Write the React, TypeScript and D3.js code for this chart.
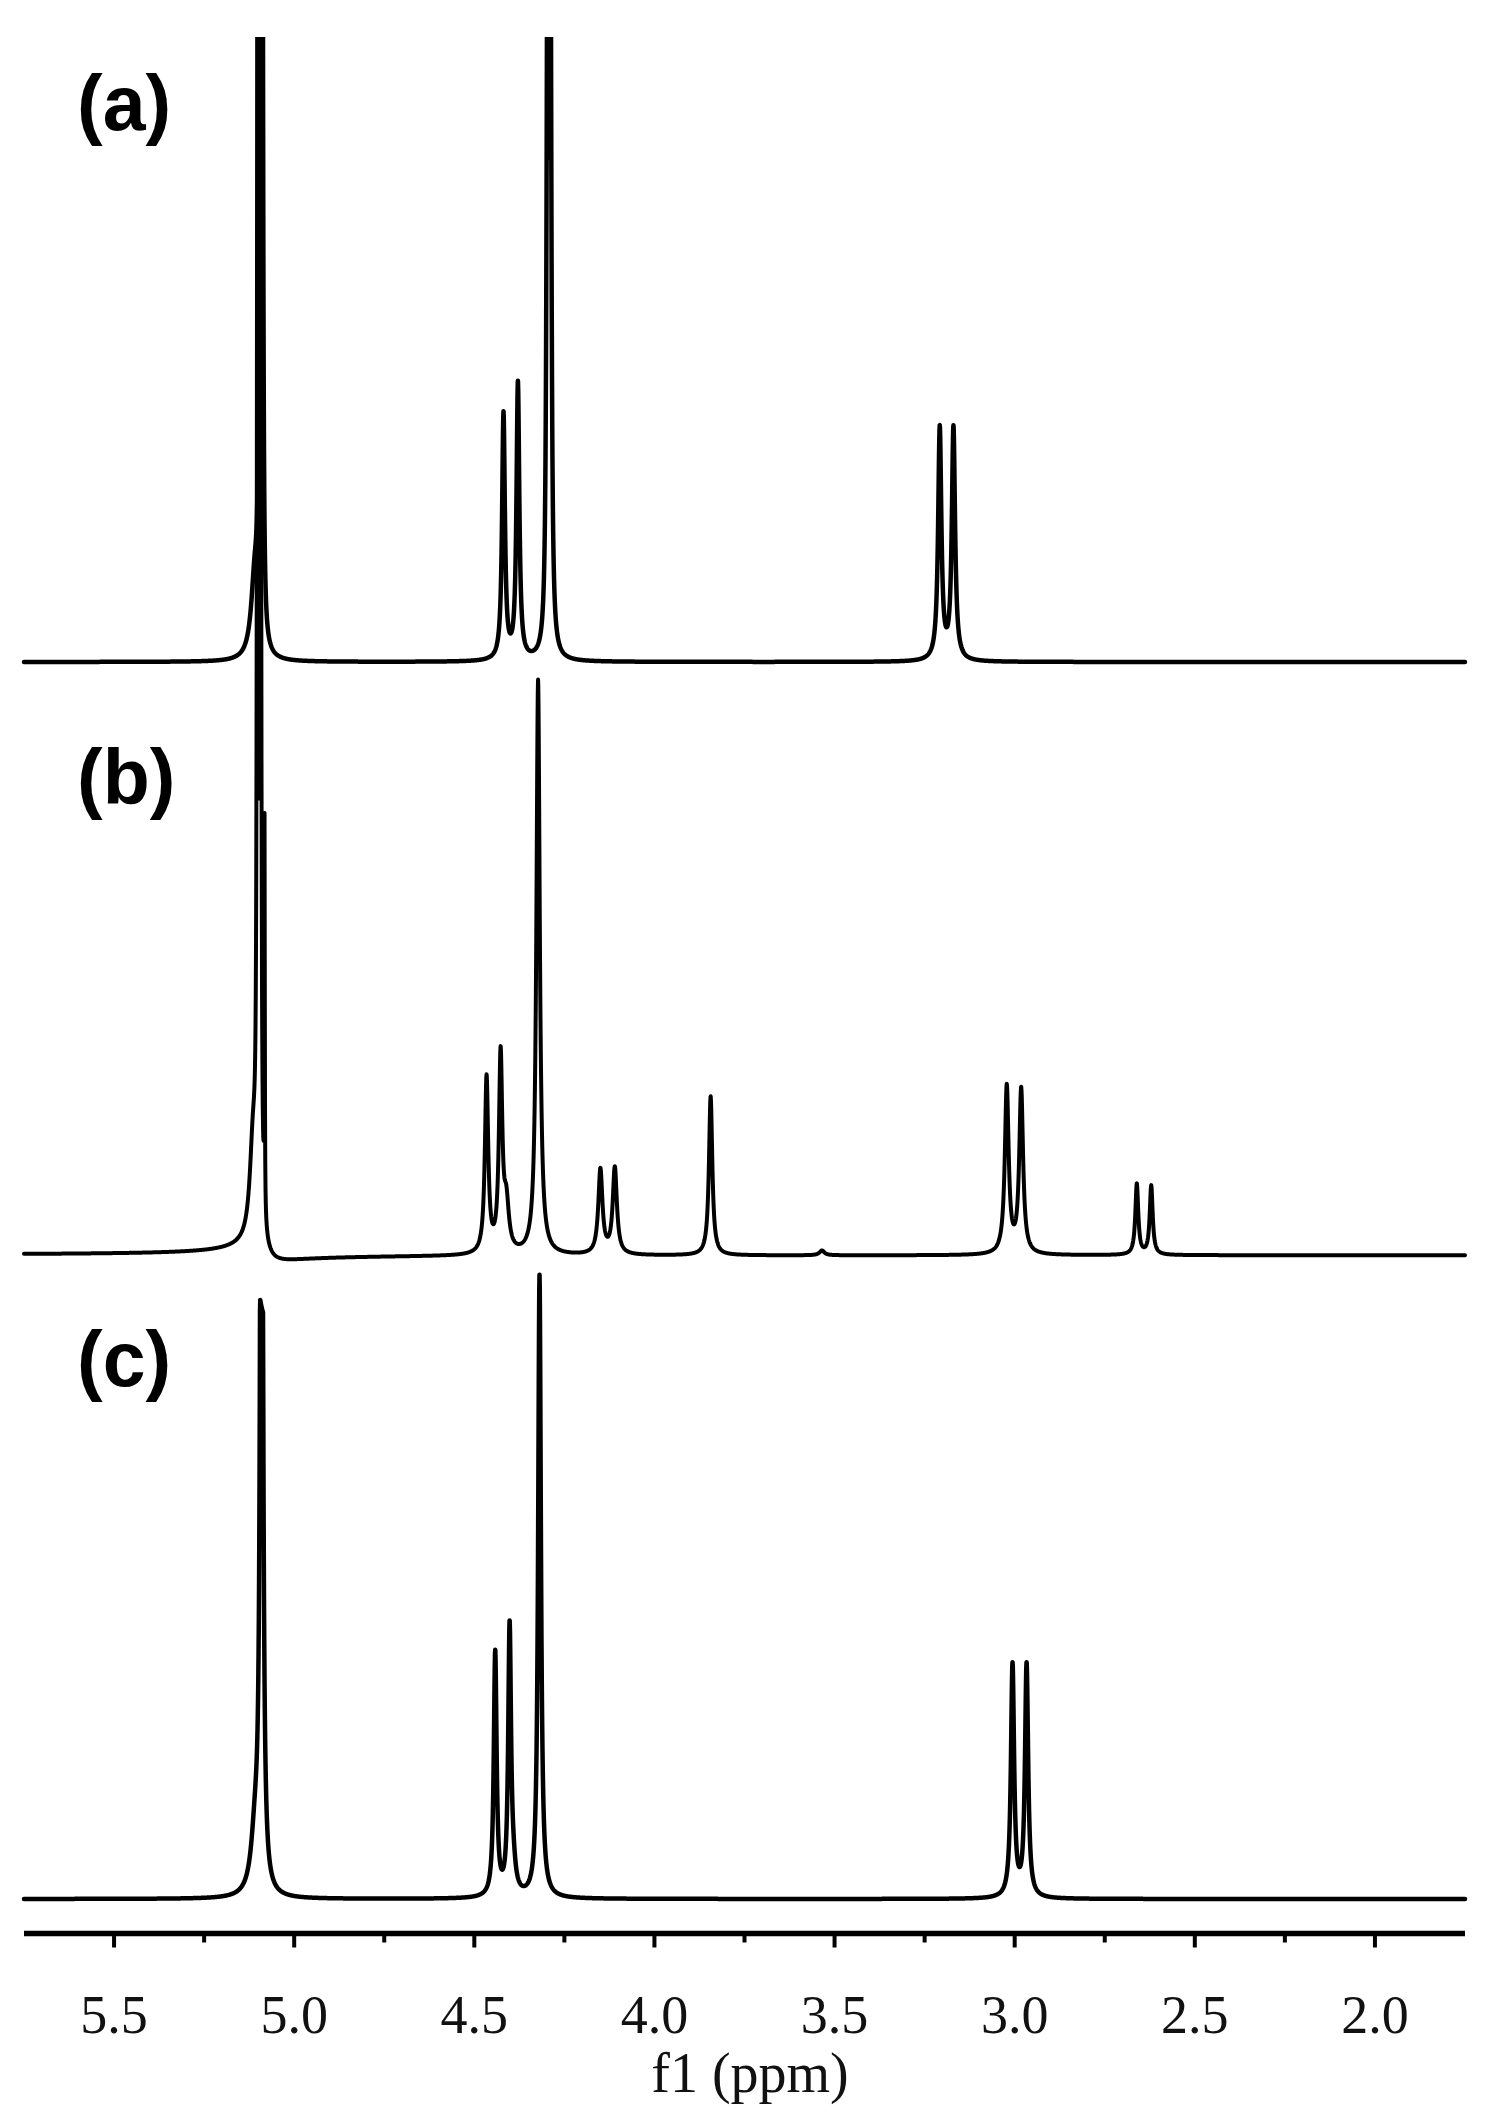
import React from "react";
import * as d3 from "d3";

const WIDTH = 1495;
const HEIGHT = 2117;

// ---- axis data ----
const X_DOMAIN: [number, number] = [5.75, 1.75];
const MAJOR_TICKS = [5.5, 5.0, 4.5, 4.0, 3.5, 3.0, 2.5, 2.0];
const MINOR_TICKS = [5.25, 4.75, 4.25, 3.75, 3.25, 2.75, 2.25];
const TICK_LABELS = ["5.5", "5.0", "4.5", "4.0", "3.5", "3.0", "2.5", "2.0"];
const AXIS_TITLE = "f1 (ppm)";
const PANEL_LABELS = ["(a)", "(b)", "(c)"];

// ---- peak lists (absorption lines): [shift ppm, intensity (0-100 scale), half-width ppm, optional max] ----
type Peak = [number, number, number, number?];

const peaksA: Peak[] = [
  [5.096, 133, 0.0022],
  [5.088, 133, 0.0022],
  [5.109, 13.3, 0.0125],
  [4.419, 41, 0.0047],
  [4.379, 46, 0.0047],
  [4.2969, 117, 0.0031],
  [4.2886, 117, 0.0031],
  [3.208, 38.7, 0.0054],
  [3.17, 38.7, 0.0054],
];

const peaksB: Peak[] = [
  [5.1018, 250, 0.0017],
  [5.0934, 250, 0.0017],
  [5.114, 16.7, 0.0111],
  [5.0823, 65, 0.0008],
  [4.466, 29.3, 0.0056],
  [4.427, 32.5, 0.0056],
  [4.411, 7.5, 0.0083],
  [4.323, 95.8, 0.0056],
  [4.15, 14.1, 0.0069],
  [4.11, 14.4, 0.0069],
  [3.844, 26.5, 0.0056],
  [3.535, 0.8, 0.0083],
  [3.022, 27.9, 0.0064],
  [2.982, 27.4, 0.0064],
  [2.661, 11.8, 0.0049],
  [2.621, 11.5, 0.0049],
];

// phase-distortion (dispersive) component of the water line in (b)
const dispersiveB: Peak[] = [[5.095, 1.4, 0.042]];

const peaksC: Peak[] = [
  [5.0906, 250, 0.0033, 94.8],
  [5.108, 10, 0.0139],
  [4.442, 40.7, 0.0047],
  [4.402, 44.2, 0.0047],
  [4.392, 3.3, 0.0083],
  [4.319, 103.8, 0.0046],
  [3.006, 38.75, 0.0053],
  [2.967, 38.75, 0.0053],
];

const SPECTRA: { abs: Peak[]; disp: Peak[] }[] = [
  { abs: peaksA, disp: [] },
  { abs: peaksB, disp: dispersiveB },
  { abs: peaksC, disp: [] },
];

// ---- layout ----
const X_RANGE: [number, number] = [24, 1465];
const BASELINES = [662, 1255, 1899];
const UNIT_PX = 600; // pixels for 100 intensity units
const STROKES = [4.5, 4, 4.5];
const LABEL_BASELINES = [130, 804, 1386];
const AXIS_Y = 1933.5;

function absorption(ppm: number, p: Peak): number {
  const [p0, h, w, cap] = p;
  const d = (ppm - p0) / w;
  const v = h / (1 + d * d);
  return cap !== undefined ? Math.min(v, cap) : v;
}

function dispersion(ppm: number, p: Peak): number {
  const [p0, h, w] = p;
  const d = (ppm - p0) / w;
  return (h * 2 * d) / (1 + d * d);
}

export default function App() {
  const x = d3.scaleLinear().domain(X_DOMAIN).range(X_RANGE);

  const samplePx = d3.range(X_RANGE[0], X_RANGE[1] + 0.001, 0.25);

  const paths = SPECTRA.map((spec, i) => {
    const y = d3
      .scaleLinear()
      .domain([0, 100])
      .range([BASELINES[i], BASELINES[i] - UNIT_PX]);
    const ppms = samplePx
      .map((px) => x.invert(px))
      .concat(spec.abs.map((p) => p[0]))
      .sort((a, b) => b - a);
    const pts: [number, number][] = ppms.map((ppm) => [
      ppm,
      spec.abs.reduce((s, p) => s + absorption(ppm, p), 0) +
        spec.disp.reduce((s, p) => s + dispersion(ppm, p), 0),
    ]);
    const line = d3
      .line<[number, number]>()
      .x((d) => x(d[0]))
      .y((d) => y(d[1]));
    return line(pts) || "";
  });

  return (
    <div style={{ position: "absolute", left: 0, top: 0 }}>
      <svg width={WIDTH} height={HEIGHT} style={{ display: "block", background: "#fff" }}>
        <defs>
          <clipPath id="plotClip">
            <rect x={0} y={37} width={WIDTH} height={HEIGHT - 37} />
          </clipPath>
        </defs>
        <rect x={0} y={0} width={WIDTH} height={HEIGHT} fill="#fff" />
        <g clipPath="url(#plotClip)">
          {paths.map((d, i) => (
            <path
              key={i}
              d={d}
              fill="none"
              stroke="#000"
              strokeWidth={STROKES[i]}
              strokeLinejoin="round"
              strokeLinecap="round"
            />
          ))}
        </g>

        {PANEL_LABELS.map((t, i) => (
          <text
            key={t}
            x={77}
            y={LABEL_BASELINES[i]}
            fontFamily="'Liberation Sans', Arial, sans-serif"
            fontWeight="bold"
            fontSize={77}
            fill="#000"
          >
            {t}
          </text>
        ))}

        {/* axis */}
        <line x1={X_RANGE[0]} x2={X_RANGE[1]} y1={AXIS_Y} y2={AXIS_Y} stroke="#000" strokeWidth={5.5} />
        {MAJOR_TICKS.map((t) => (
          <line key={"M" + t} x1={x(t)} x2={x(t)} y1={AXIS_Y} y2={AXIS_Y + 14} stroke="#000" strokeWidth={4} />
        ))}
        {MINOR_TICKS.map((t) => (
          <line key={"m" + t} x1={x(t)} x2={x(t)} y1={AXIS_Y} y2={AXIS_Y + 9} stroke="#000" strokeWidth={4} />
        ))}
        {MAJOR_TICKS.map((t, i) => (
          <text
            key={"L" + t}
            x={x(t)}
            y={2033}
            textAnchor="middle"
            fontFamily="'Liberation Serif', 'Times New Roman', serif"
            fontSize={54}
            fill="#111"
          >
            {TICK_LABELS[i]}
          </text>
        ))}
        <text
          x={750}
          y={2092}
          textAnchor="middle"
          fontFamily="'Liberation Serif', 'Times New Roman', serif"
          fontSize={56}
          fill="#111"
        >
          {AXIS_TITLE}
        </text>
      </svg>
    </div>
  );
}
